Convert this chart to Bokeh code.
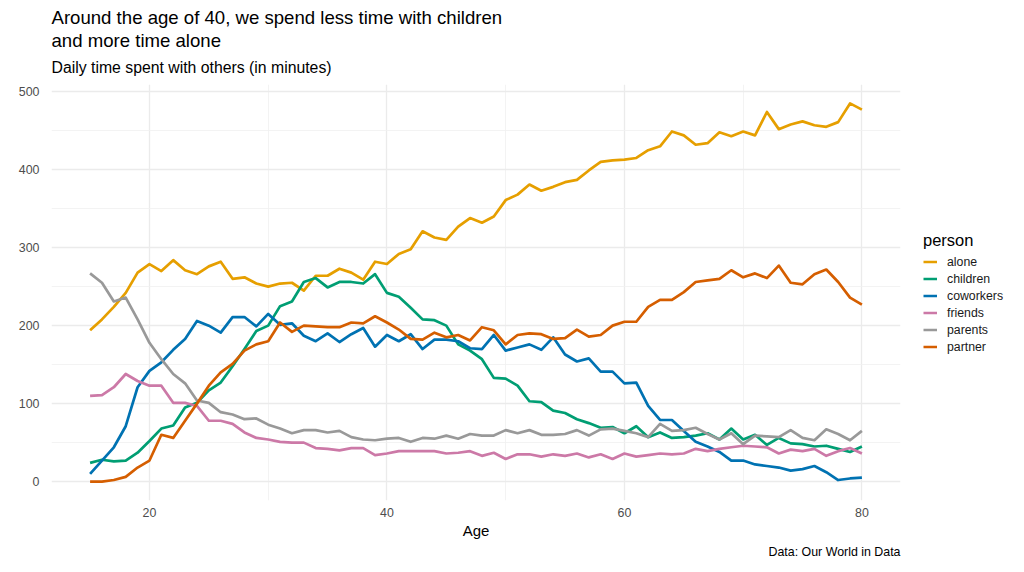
from bokeh.plotting import figure
from bokeh.models import Range1d, FixedTicker, Legend, LegendItem, Title
from bokeh.embed import file_html
from bokeh.resources import INLINE

# Daily minutes spent with each kind of company, by age (15-80)
ages = list(range(15, 81))

alone = [194, 208, 224, 242, 268, 279, 270, 284, 271, 266, 276, 282, 260, 262, 254, 250,
         254, 255, 245, 264, 264, 273, 268, 259, 282, 279, 292, 298, 321, 313, 310, 327,
         338, 332, 340, 361, 368, 381, 373, 378, 384, 387, 399, 410, 412, 413, 415, 425,
         430, 449, 444, 432, 434, 448, 443, 449, 444, 474, 452, 458, 462, 457, 455, 461,
         485, 477]

children = [24, 28, 26, 27, 37, 52, 68, 72, 95, 101, 117, 127, 148, 170, 193, 200,
            225, 231, 256, 261, 249, 256, 256, 254, 266, 242, 237, 223, 208, 207, 200, 176,
            168, 157, 133, 132, 123, 103, 102, 91, 88, 80, 75, 69, 70, 62, 71, 57,
            63, 56, 57, 59, 62, 54, 68, 54, 60, 47, 56, 49, 48, 45, 46, 42,
            38, 45]

coworkers = [10, 27, 44, 71, 121, 142, 153, 169, 183, 206, 200, 191, 211, 211, 199, 215,
             201, 203, 187, 180, 190, 179, 189, 197, 173, 188, 180, 189, 170, 182, 182, 180,
             171, 170, 188, 168, 172, 176, 169, 185, 163, 154, 158, 141, 141, 126, 127, 97,
             79, 79, 65, 51, 45, 38, 27, 27, 22, 20, 18, 14, 16, 20, 12, 2,
             4, 5]

friends = [110, 111, 121, 138, 129, 123, 123, 101, 101, 97, 78, 78, 74, 63, 56, 54,
           51, 50, 50, 43, 42, 40, 43, 43, 34, 36, 39, 39, 39, 39, 36, 37,
           39, 33, 37, 29, 35, 35, 32, 35, 33, 36, 31, 35, 29, 36, 32, 34,
           36, 35, 36, 42, 39, 42, 44, 46, 45, 44, 36, 41, 39, 42, 33, 39,
           43, 36]

parents = [267, 255, 231, 236, 208, 178, 157, 138, 126, 104, 101, 89, 86, 80, 81, 73,
           68, 62, 66, 66, 63, 65, 57, 54, 53, 55, 56, 51, 56, 55, 59, 55,
           61, 59, 59, 66, 62, 66, 60, 60, 61, 66, 59, 67, 68, 65, 62, 57,
           74, 65, 66, 69, 61, 54, 62, 48, 59, 58, 57, 66, 56, 53, 67, 61,
           53, 65]

partner = [0, 0, 2, 6, 18, 27, 60, 56, 78, 100, 123, 140, 151, 168, 176, 180,
           204, 192, 200, 199, 198, 198, 204, 203, 212, 204, 195, 183, 182, 191, 185, 188,
           181, 198, 194, 176, 188, 190, 189, 183, 184, 195, 186, 188, 200, 205, 205, 224,
           233, 233, 243, 256, 258, 260, 271, 262, 267, 261, 277, 255, 253, 266, 272, 256,
           236, 227]

persons = ["alone", "children", "coworkers", "friends", "parents", "partner"]
series = [alone, children, coworkers, friends, parents, partner]
colors = ["#E69F00", "#009E73", "#0072B2", "#CC79A7", "#999999", "#D55E00"]

x_ticks = [20, 40, 60, 80]
x_minor = [10, 30, 50, 70]
y_ticks = [0, 100, 200, 300, 400, 500]
y_minor = [50, 150, 250, 350, 450]

FONT = "Liberation Sans"

p = figure(frame_width=849, frame_height=416, output_backend="svg", toolbar_location=None,
           title=None,
           x_range=Range1d(11.75, 83.25), y_range=Range1d(-24.25, 509.25),
           min_border_left=51, min_border_right=124,
           min_border_top=84, min_border_bottom=72)
p.outline_line_color = None
p.background_fill_color = "white"
p.border_fill_color = "white"

renderers = []
for name, vals, col in zip(persons, series, colors):
    r = p.line(ages, vals, line_color=col, line_width=2.7, line_join="round")
    renderers.append(r)

# grid: light major lines, fainter minor lines
p.xaxis.ticker = FixedTicker(ticks=x_ticks, minor_ticks=x_minor)
p.yaxis.ticker = FixedTicker(ticks=y_ticks, minor_ticks=y_minor)
for g in (p.xgrid, p.ygrid):
    g.grid_line_color = "#EBEBEB"
    g.grid_line_width = 1.3
    g.minor_grid_line_color = "#F0F0F0"
    g.minor_grid_line_width = 0.8

for ax in (p.xaxis, p.yaxis):
    ax.axis_line_color = None
    ax.major_tick_line_color = None
    ax.minor_tick_line_color = None
    ax.major_label_text_font = FONT
    ax.major_label_text_font_size = "12.4px"
    ax.major_label_text_color = "#4D4D4D"

p.yaxis.major_label_standoff = 6
p.xaxis.major_label_standoff = 1
p.xaxis.axis_label = "Age"
p.xaxis.axis_label_text_font = FONT
p.xaxis.axis_label_text_font_size = "15px"
p.xaxis.axis_label_text_font_style = "normal"
p.xaxis.axis_label_text_color = "#000000"
p.xaxis.axis_label_standoff = 2

legend = Legend(
    items=[LegendItem(label=n, renderers=[r]) for n, r in zip(persons, renderers)],
    title="person", location="center_left",
    title_text_font=FONT, title_text_font_size="16.5px", title_text_color="#000000",
    title_text_font_style="normal", title_standoff=5,
    label_text_font=FONT, label_text_font_size="12.3px", label_text_color="#1A1A1A",
    glyph_width=14, glyph_height=14, label_height=14, label_standoff=10, spacing=3,
    border_line_color=None, background_fill_alpha=0, margin=23, padding=10,
)
p.add_layout(legend, "right")

sub = Title(text="Daily time spent with others (in minutes)", align="left",
            text_font=FONT, text_font_size="15.8px", text_font_style="normal",
            text_color="#000000", standoff=17)
head = Title(text="Around the age of 40, we spend less time with children\nand more time alone",
             align="left",
             text_font=FONT, text_font_size="18.6px", text_font_style="normal",
             text_color="#000000", text_line_height=1.08, standoff=0)
try:
    head.standoff = -5
except Exception:
    head.standoff = 0
p.add_layout(sub, "above")
p.add_layout(head, "above")

cap = Title(text="Data: Our World in Data", align="right",
            text_font=FONT, text_font_size="12.4px", text_font_style="normal",
            text_color="#000000", standoff=3)
p.add_layout(cap, "below")

open("out.html", "w").write(file_html(p, INLINE))
